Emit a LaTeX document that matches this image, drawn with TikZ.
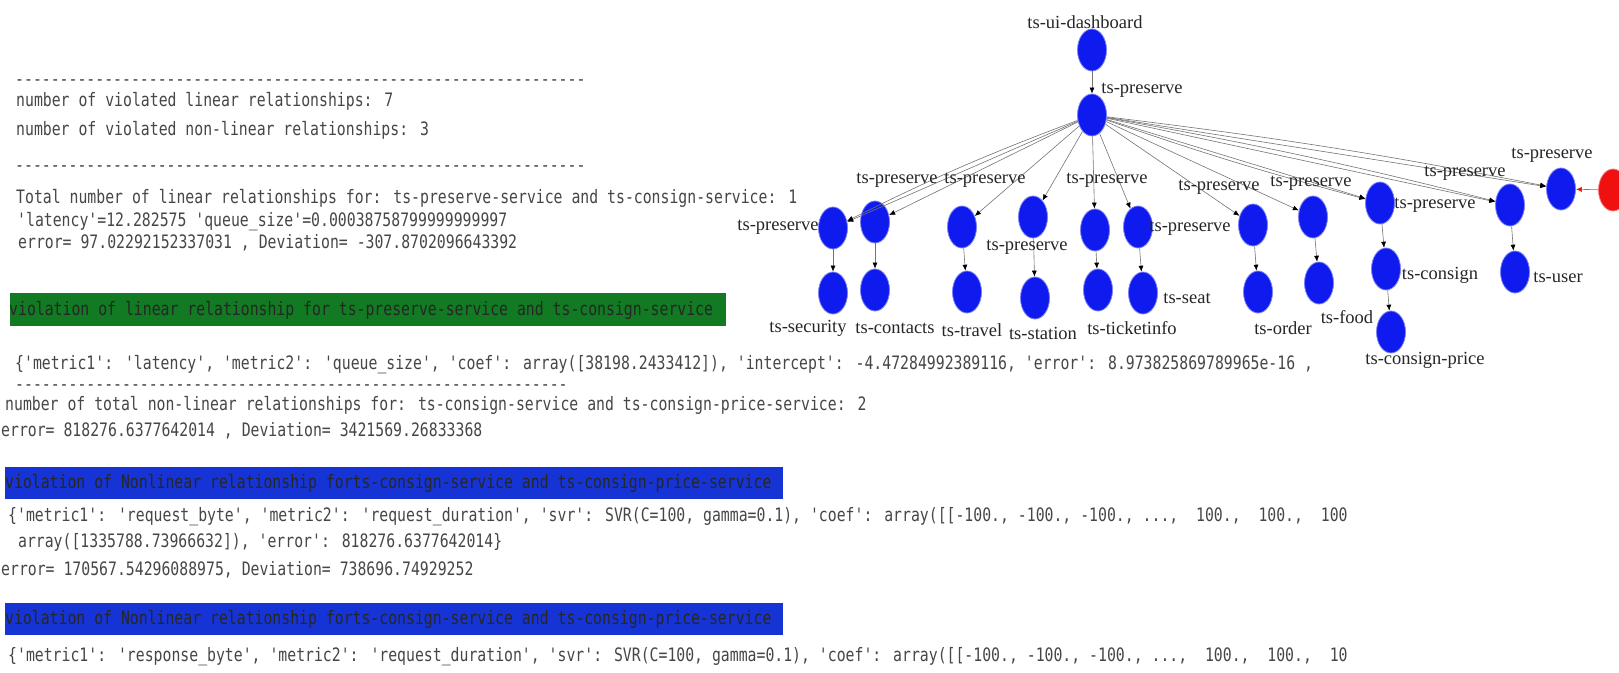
\documentclass[tikz,border=0pt]{standalone}
\usepackage{fontspec}
\setmainfont{Liberation Serif}
\newfontfamily\logfont{DejaVu Sans Mono}[FakeStretch=0.8,Ligatures=ResetAll]
\usetikzlibrary{shapes.geometric,arrows.meta}
\definecolor{nodeblue}{RGB}{14,26,238}
\definecolor{nodered}{RGB}{240,16,16}
\definecolor{bargreen}{RGB}{18,122,34}
\definecolor{barblue}{RGB}{22,52,214}
\definecolor{logtext}{RGB}{70,70,70}
\begin{document}
\begin{tikzpicture}[x=1pt,y=-1pt,
  svc/.style={ellipse, fill=nodeblue, draw=nodeblue!55, line width=0.8pt,
              minimum width=29pt, minimum height=42pt, inner sep=0pt},
  entry/.style={svc, fill=nodered, draw=nodered!55},
  tag/.style={font=\fontsize{18.5}{20}\selectfont, text=black!85, inner sep=0pt},
  call/.style={draw=black!55, line width=0.6pt,
               -{Latex[length=6pt,width=5pt,color=black]}},
  logline/.style={anchor=west, inner sep=0pt, text=logtext,
                  text height=14pt, text depth=4pt,
                  font=\logfont\fontsize{18.5}{20}\selectfont},
  bartext/.style={logline, text=black!85},
]
\useasboundingbox (0,0) rectangle (1619,672);
\clip (0,0) rectangle (1619,672);

% ---------------- console output ----------------
\node[logline] (sep1) at (15,80) {----------------------------------------------------------------};
\node[logline] (l1) at (16,101) {number of violated linear relationships: 7};
\node[logline] (l2) at (16,130) {number of violated non-linear relationships: 3};
\node[logline] (sep2) at (15,166) {----------------------------------------------------------------};
\node[logline] (l3) at (16,198) {Total number of linear relationships for: ts-preserve-service and ts-consign-service: 1};
\node[logline] (l4) at (17,221) {'latency'=12.282575 'queue\_size'=0.00038758799999999997};
\node[logline] (l5) at (18,243) {error= 97.02292152337031 , Deviation= -307.8702096643392};

\fill[bargreen] (10,293) rectangle (726,326);
\node[bartext] (g1) at (9,310) {violation of linear relationship for ts-preserve-service and ts-consign-service};

\node[logline] (l6) at (15,364) {\{'metric1': 'latency', 'metric2': 'queue\_size', 'coef': array([38198.2433412]), 'intercept': -4.47284992389116, 'error': 8.973825869789965e-16 ,};
\node[logline] (sep3) at (15,385) {--------------------------------------------------------------};
\node[logline] (l7) at (5,405) {number of total non-linear relationships for: ts-consign-service and ts-consign-price-service: 2};
\node[logline] (l8) at (1,431) {error= 818276.6377642014 , Deviation= 3421569.26833368};

\fill[barblue] (5,467) rectangle (783,499);
\node[bartext] (b1) at (5,483) {violation of Nonlinear relationship forts-consign-service and ts-consign-price-service};

\node[logline] (l9) at (8,516) {\{'metric1': 'request\_byte', 'metric2': 'request\_duration', 'svr': SVR(C=100, gamma=0.1), 'coef': array([[-100., -100., -100., ...,~ 100.,~ 100.,~ 100};
\node[logline] (l10) at (9,542) {~array([1335788.73966632]), 'error': 818276.6377642014\}};
\node[logline] (l11) at (1,570) {error= 170567.54296088975, Deviation= 738696.74929252};

\fill[barblue] (5,603) rectangle (783,635);
\node[bartext] (b2) at (5,619) {violation of Nonlinear relationship forts-consign-service and ts-consign-price-service};

\node[logline] (l12) at (8,656) {\{'metric1': 'response\_byte', 'metric2': 'request\_duration', 'svr': SVR(C=100, gamma=0.1), 'coef': array([[-100., -100., -100., ...,~ 100.,~ 100.,~ 10};

% ---------------- service call graph ----------------
\node[svc] (dash) at (1092,50) {};
\node[svc] (pre)  at (1092,115) {};

\node[svc] (a1) at (833,228) {};
\node[svc] (a2) at (875,222) {};
\node[svc] (b1) at (962,227) {};
\node[svc] (c1) at (1033,217) {};
\node[svc] (d1) at (1095,230) {};
\node[svc] (e1) at (1138,227) {};
\node[svc] (f1) at (1253,225) {};
\node[svc] (gg1) at (1313,217) {};
\node[svc] (h1) at (1380,203) {};
\node[svc] (i1) at (1510,205) {};
\node[svc] (j1) at (1561,189) {};
\node[entry] (src) at (1613,190) {};

\node[svc] (a1b) at (833,293) {};
\node[svc] (a2b) at (875,290) {};
\node[svc] (b1b) at (967,292) {};
\node[svc] (c1b) at (1035,298) {};
\node[svc] (d1b) at (1098,290) {};
\node[svc] (e1b) at (1143,293) {};
\node[svc] (f1b) at (1258,292) {};
\node[svc] (gg1b) at (1319,283) {};
\node[svc] (h2) at (1386,269) {};
\node[svc] (h3) at (1391,332) {};
\node[svc] (i1b) at (1515,272) {};

% calls
\draw[call] (dash) -- (pre);
\foreach \t in {a1,a2,b1,c1,d1,e1,f1,gg1,h1,i1,j1}
  \draw[call] (pre) -- (\t);
\draw[call] (pre) to[bend right=3] (a1);
\draw[call] (pre) to[bend left=2] (i1);
\draw[call] (pre) to[bend left=2] (j1);
\draw[call] (pre) to[bend right=2] (h1);
\draw[draw=nodered!80, line width=0.6pt, -{Latex[length=6pt,width=5pt,color=nodered]}] (src) -- (j1);

\foreach \s/\t in {a1/a1b,a2/a2b,b1/b1b,c1/c1b,d1/d1b,e1/e1b,f1/f1b,gg1/gg1b,h1/h2,h2/h3,i1/i1b}
  \draw[call] (\s) -- (\t);

% service names
\node[tag] (tdash) at (1085,22) {ts-ui-dashboard};
\node[tag] (tpre) at (1142,90) {ts-preserve};
\node[tag] (ta1) at (778,227) {ts-preserve};
\node[tag] (ta2) at (897,180) {ts-preserve};
\node[tag] (tb1) at (985,180) {ts-preserve};
\node[tag] (td1) at (1107,180) {ts-preserve};
\node[tag] (tf1) at (1219,187) {ts-preserve};
\node[tag] (tg1) at (1311,183) {ts-preserve};
\node[tag] (tc1) at (1027,247) {ts-preserve};
\node[tag] (te1) at (1190,228) {ts-preserve};
\node[tag] (th1) at (1435,205) {ts-preserve};
\node[tag] (ti1) at (1465,173) {ts-preserve};
\node[tag] (tj1) at (1552,155) {ts-preserve};

\node[tag] (ta1b) at (808,328) {ts-security};
\node[tag] (ta2b) at (895,328) {ts-contacts};
\node[tag] (tb1b) at (972,330) {ts-travel};
\node[tag] (tc1b) at (1043,333) {ts-station};
\node[tag] (td1b) at (1132,328) {ts-ticketinfo};
\node[tag] (te1b) at (1187,298) {ts-seat};
\node[tag] (tf1b) at (1283,328) {ts-order};
\node[tag] (tg1b) at (1347,317) {ts-food};
\node[tag] (th2) at (1440,275) {ts-consign};
\node[tag] (th3) at (1425,360) {ts-consign-price};
\node[tag] (ti1b) at (1558,277) {ts-user};
\end{tikzpicture}
\end{document}
